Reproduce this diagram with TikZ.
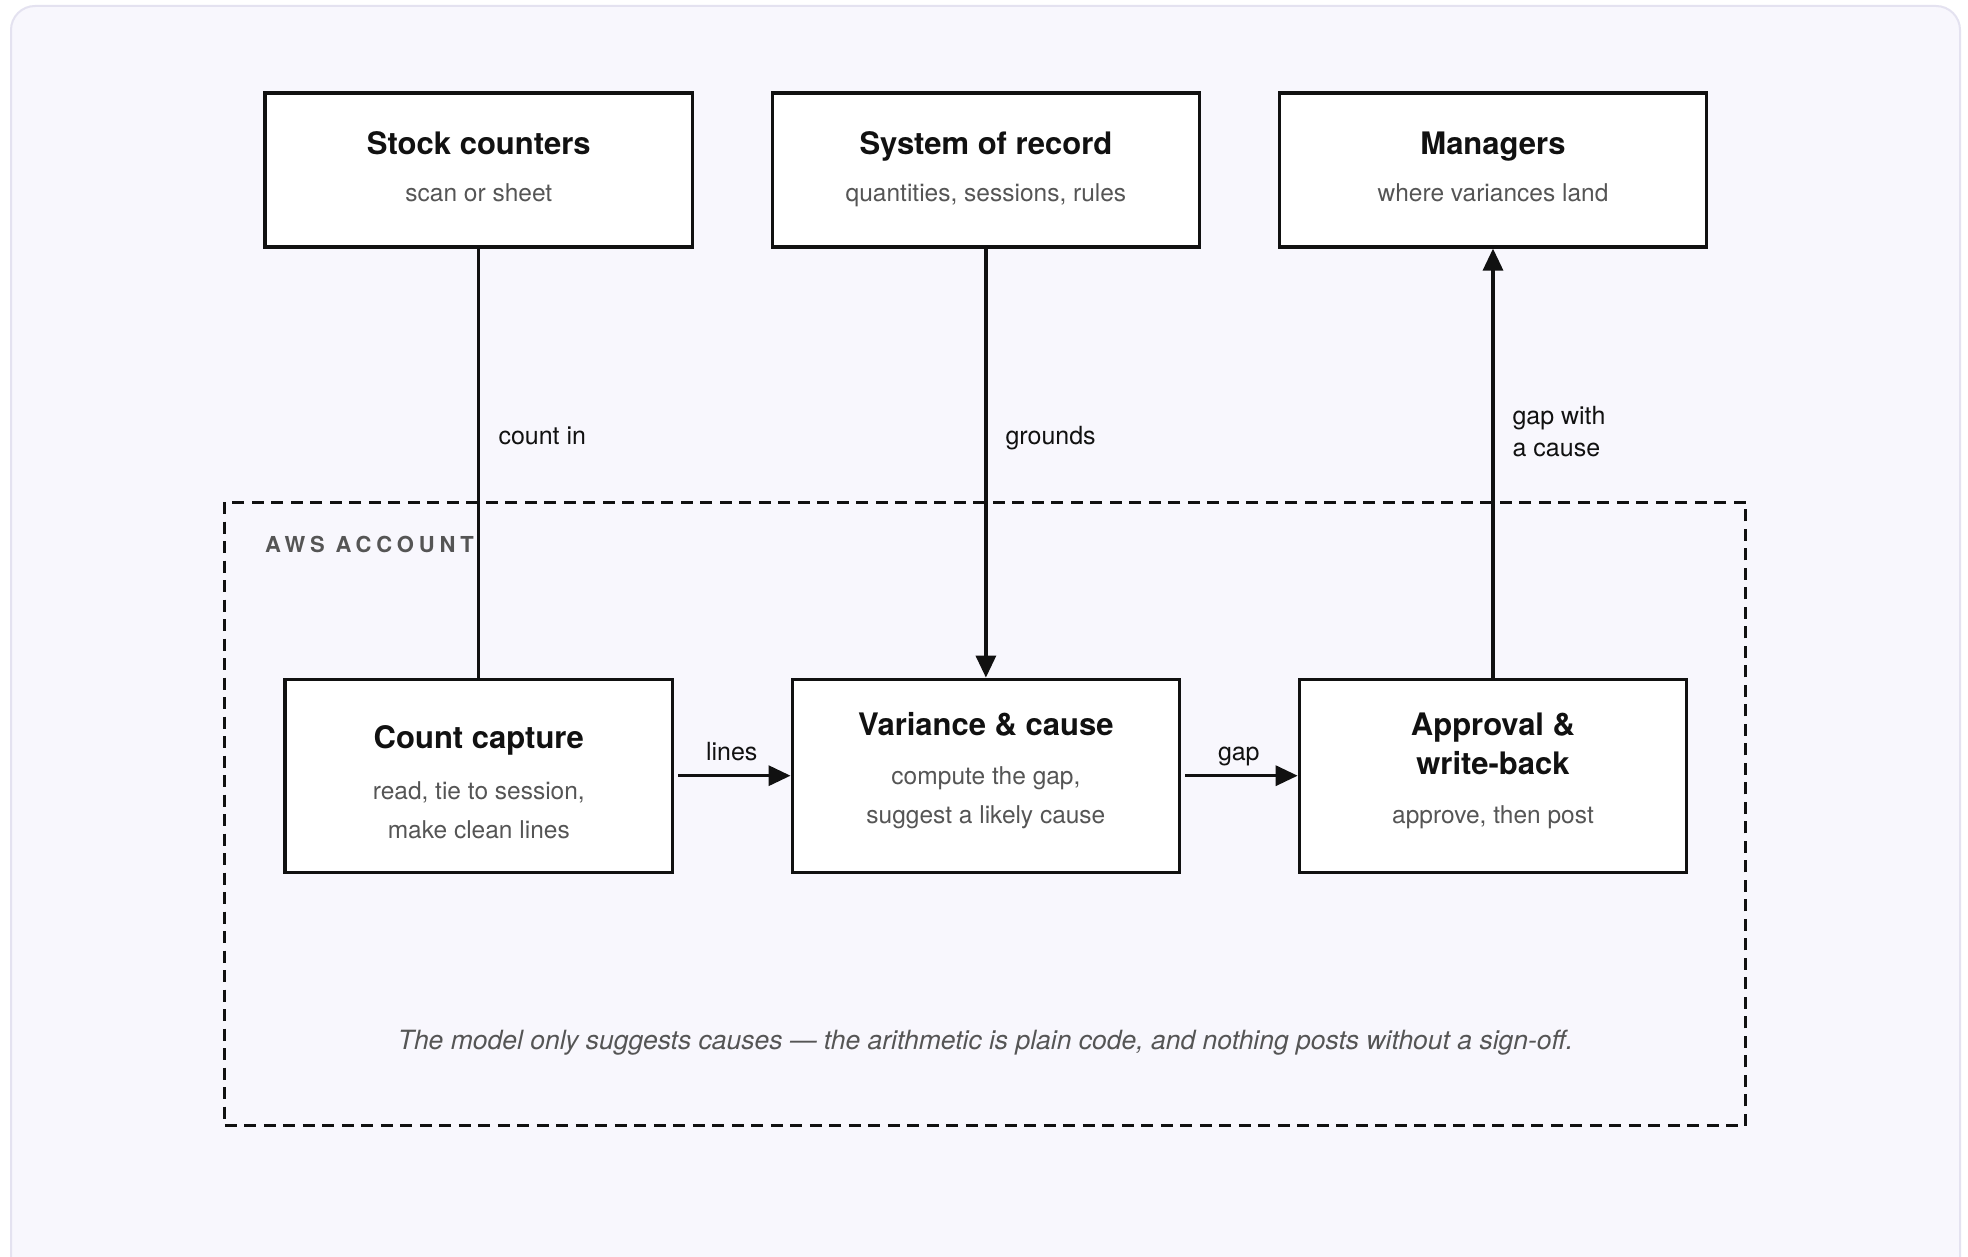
\documentclass[tikz,border=0pt]{standalone}
\usepackage{fontspec}
\setmainfont{TeX Gyre Heros}
\usetikzlibrary{arrows.meta}
\definecolor{cardfill}{HTML}{F8F7FD}
\definecolor{cardline}{HTML}{E4E2F0}
\definecolor{ink}{HTML}{111111}
\definecolor{muted}{HTML}{555555}
\begin{document}
\begin{tikzpicture}[x=1pt,y=-1pt,
  topbox/.style={draw=ink, line width=3.2pt, fill=white, minimum width=427.5pt, minimum height=154pt, inner sep=0pt},
  botbox/.style={draw=ink, line width=3.2pt, fill=white, minimum width=387.5pt, minimum height=193pt, inner sep=0pt},
  ttl/.style={font=\fontsize{31}{37}\selectfont\bfseries, text=ink, inner sep=0pt, text height=21pt, text depth=0pt},
  sub/.style={font=\fontsize{24.5}{30}\selectfont, text=muted, inner sep=0pt, text height=17pt, text depth=0pt},
  lbl/.style={font=\fontsize{25}{30}\selectfont, text=ink, inner sep=0pt, text height=17.5pt, text depth=0pt},
  arr/.style={draw=ink, line width=3.3pt, -{Triangle[length=22pt,width=20pt]}},
  plainline/.style={draw=ink, line width=3.3pt}
]
\clip (0,0) rectangle (1968,1257);
\fill[white] (0,0) rectangle (1968,1257);
\draw[fill=cardfill, draw=cardline, line width=2pt, rounded corners=24pt] (11,6) rectangle (1960,1300);

% AWS account frame
\node[draw=ink, line width=3pt, dash pattern=on 12pt off 7.5pt, minimum width=1521pt, minimum height=623.8pt, inner sep=0pt] (aws) at (985.25,813.9) {};
\node[anchor=west, font=\fontsize{22}{26}\selectfont\bfseries\addfontfeature{LetterSpace=22}, text=muted, inner sep=0pt, text height=16pt, text depth=0pt] (awslbl) at (264.8,544.7) {AWS ACCOUNT};

% top boxes
\node[topbox] (sc) at (478.8,170) {};
\node[topbox] (sr) at (985.9,170) {};
\node[topbox] (mg) at (1493,170) {};
\node[ttl] (sct) at (478.8,144.3) {Stock counters};
\node[sub] (scs) at (478.8,193.3) {scan or sheet};
\node[ttl] (srt) at (985.9,144.3) {System of record};
\node[sub] (srs) at (985.9,193.3) {quantities, sessions, rules};
\node[ttl] (mgt) at (1493,144.3) {Managers};
\node[sub] (mgs) at (1493,193.3) {where variances land};

% bottom boxes
\node[botbox] (cc) at (478.8,775.7) {};
\node[botbox] (vc) at (985.9,775.7) {};
\node[botbox] (ap) at (1493,775.7) {};
\node[ttl] (cct) at (478.8,738) {Count capture};
\node[sub] (ccs1) at (478.8,790.7) {read, tie to session,};
\node[sub] (ccs2) at (478.8,829.6) {make clean lines};
\node[ttl] (vct) at (985.9,725.4) {Variance \& cause};
\node[sub] (vcs1) at (985.9,775.6) {compute the gap,};
\node[sub] (vcs2) at (985.9,814.5) {suggest a likely cause};
\node[ttl] (apt1) at (1493,725.4) {Approval \&};
\node[ttl] (apt2) at (1493,764.4) {write-back};
\node[sub] (aps) at (1493,814.5) {approve, then post};

% connectors
\draw[plainline] (sc.south) -- (cc.north);
\draw[arr] (sr.south) -- (vc.north);
\draw[arr] (ap.north) -- (mg.south);
\draw[arr] ([xshift=4pt]cc.east) -- (vc.west);
\draw[arr] ([xshift=4pt]vc.east) -- (ap.west);

% connector labels
\node[lbl, anchor=west] (l1) at (498.3,435.5) {count in};
\node[lbl, anchor=west] (l2) at (1005.3,435.5) {grounds};
\node[lbl, anchor=west] (l3a) at (1512.4,415.4) {gap with};
\node[lbl, anchor=west] (l3b) at (1512.4,448.1) {a cause};
\node[lbl] (l4) at (731.7,751.8) {lines};
\node[lbl] (l5) at (1238.8,751.8) {gap};

% footnote
\node[font=\fontsize{26.5}{32}\selectfont\itshape, text=muted, inner sep=0pt, text height=18.5pt, text depth=0pt] (note) at (985.5,1040.5) {The model only suggests causes — the arithmetic is plain code, and nothing posts without a sign-off.};
\end{tikzpicture}
\end{document}
